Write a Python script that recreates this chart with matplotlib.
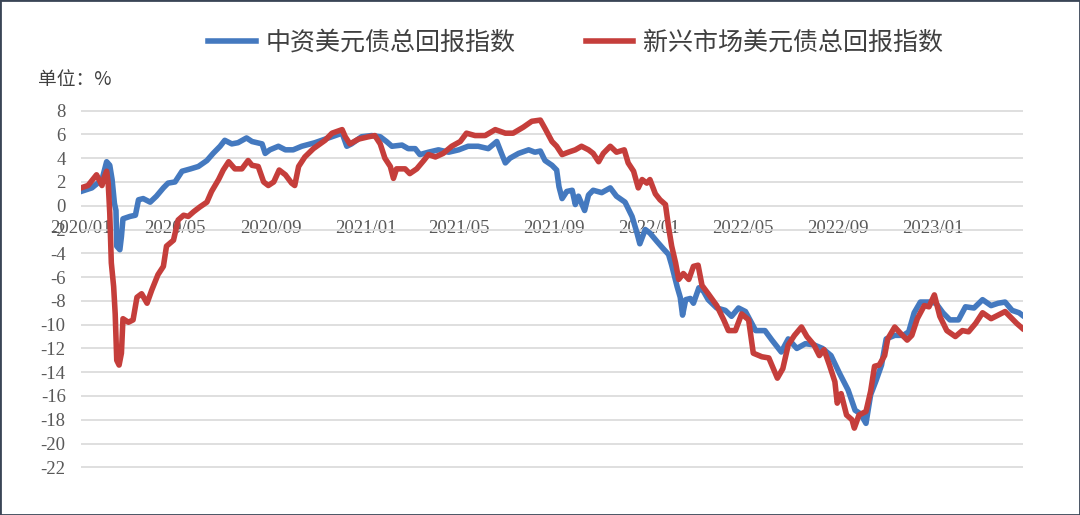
import matplotlib
matplotlib.use("Agg")
import matplotlib.pyplot as plt
from matplotlib.patches import Rectangle
import pandas as pd

START = pd.Timestamp("2020-01-01")

# day offsets from 2020-01-01 and values (%)
CN_DAYS = [0, 14, 27, 33, 37, 40, 43, 45, 46, 50, 52, 54, 63, 70, 74, 80, 89, 97, 106, 112,
           121, 130, 141, 151, 162, 170, 179, 185, 194, 202, 213, 220, 233, 237, 243, 254, 263, 273, 284, 301,
           314, 327, 336, 342, 348, 361, 374, 385, 393, 400, 413, 421, 430, 436, 447, 460, 473, 486, 498, 511,
           524, 535, 541, 546, 552, 563, 576, 584, 591, 597, 606, 612, 615, 619, 625, 632, 636, 640, 648, 653,
           659, 670, 681, 689, 700, 709, 715, 719, 726, 732, 741, 749, 756, 760, 767, 771, 774, 778, 784, 788,
           795, 801, 807, 818, 829, 837, 846, 855, 868, 880, 889, 901, 910, 921, 932, 943, 954, 965, 976, 987,
           996, 1003, 1010, 1016, 1023, 1030, 1036, 1047, 1058, 1065, 1072, 1080, 1092, 1100, 1109, 1118, 1129,
           1138, 1149, 1160, 1171, 1180, 1189, 1198, 1207, 1211]
CN_VALS = [1.2, 1.5, 2.2, 3.7, 3.4, 2.2, 0.2, -0.4, -3.4, -3.7, -2.6, -1.1, -0.9, -0.8, 0.5, 0.6, 0.3, 0.8, 1.5, 1.9,
           2.0, 2.9, 3.1, 3.3, 3.8, 4.4, 5.0, 5.5, 5.2, 5.3, 5.7, 5.4, 5.2, 4.4, 4.7, 5.0, 4.7, 4.7, 5.0, 5.3,
           5.6, 5.9, 6.1, 5.0, 5.2, 5.8, 5.9, 5.8, 5.4, 5.0, 5.1, 4.8, 4.8, 4.3, 4.5, 4.7, 4.5, 4.7, 5.0, 5.0,
           4.8, 5.4, 4.4, 3.6, 4.0, 4.4, 4.7, 4.5, 4.6, 3.8, 3.4, 3.0, 1.6, 0.6, 1.2, 1.3, 0.1, 0.8, -0.4, 0.9,
           1.3, 1.1, 1.5, 0.8, 0.3, -0.9, -2.2, -3.2, -2.0, -2.3, -3.0, -3.6, -4.1, -5.0, -6.8, -7.7, -9.2, -7.9, -7.8, -8.2,
           -6.9, -7.2, -7.9, -8.6, -8.8, -9.3, -8.6, -8.9, -10.5, -10.5, -11.3, -12.3, -11.2, -12.0, -11.6, -11.7, -12.0, -12.6, -14.1, -15.5,
           -17.2, -17.5, -18.3, -15.9, -14.7, -13.4, -11.2, -10.9, -10.9, -10.6, -9.0, -8.1, -8.1, -8.2, -9.0, -9.6, -9.6,
           -8.5, -8.6, -7.9, -8.4, -8.2, -8.1, -8.8, -9.0, -9.2]

EM_DAYS = [0, 9, 20, 27, 30, 33, 35, 37, 39, 42, 44, 46, 49, 52, 54, 61, 67, 72, 78, 85,
           91, 99, 106, 110, 119, 125, 132, 138, 145, 153, 162, 168, 177, 183, 190, 198, 207, 215, 220, 228,
           235, 241, 248, 255, 263, 271, 275, 280, 288, 299, 314, 323, 336, 340, 346, 357, 370, 378, 385, 391,
           398, 402, 406, 417, 423, 432, 441, 447, 456, 466, 477, 488, 496, 507, 520, 533, 546, 556, 569, 580,
           591, 597, 606, 612, 619, 627, 636, 644, 653, 659, 666, 672, 681, 689, 699, 704, 711, 717, 722, 728,
           732, 739, 745, 752, 756, 760, 765, 769, 775, 782, 788, 794, 799, 807, 818, 827, 833, 842, 850, 859,
           865, 876, 885, 896, 903, 910, 918, 927, 934, 943, 950, 956, 963, 970, 973, 978, 985, 992, 995, 1001,
           1010, 1016, 1021, 1027, 1034, 1038, 1047, 1054, 1063, 1069, 1076, 1085, 1091, 1098, 1105, 1114, 1125,
           1134, 1142, 1151, 1160, 1171, 1180, 1189, 1198, 1204, 1211]
EM_VALS = [1.5, 1.7, 2.6, 1.7, 2.4, 2.9, 1.9, -0.6, -4.8, -6.8, -9.1, -13.0, -13.4, -12.4, -9.5, -9.8, -9.6, -7.7, -7.4, -8.2,
           -7.1, -5.8, -5.1, -3.4, -2.9, -1.2, -0.8, -0.9, -0.5, -0.1, 0.3, 1.2, 2.2, 3.0, 3.7, 3.1, 3.1, 3.8, 3.4, 3.3,
           2.0, 1.7, 2.0, 3.0, 2.6, 1.9, 1.7, 3.3, 4.1, 4.8, 5.5, 6.1, 6.4, 5.8, 5.2, 5.6, 5.8, 5.9, 5.2, 4.0,
           3.3, 2.3, 3.1, 3.1, 2.7, 3.1, 3.8, 4.3, 4.1, 4.4, 5.0, 5.4, 6.1, 5.9, 5.9, 6.4, 6.1, 6.1, 6.6, 7.1,
           7.2, 6.5, 5.4, 5.0, 4.3, 4.5, 4.7, 5.0, 4.7, 4.4, 3.7, 4.4, 5.0, 4.5, 4.7, 3.6, 2.9, 1.5, 2.2, 1.9,
           2.2, 1.0, 0.5, 0.1, -1.8, -3.4, -4.8, -6.2, -5.7, -6.2, -5.1, -5.0, -6.7, -7.4, -8.4, -9.6, -10.5, -10.5, -9.1, -9.6,
           -12.4, -12.7, -12.8, -14.5, -13.7, -11.7, -10.9, -10.2, -11.0, -11.7, -12.6, -12.1, -13.4, -14.8, -16.6, -15.8, -17.6, -18.0, -18.7, -17.6,
           -17.3, -15.6, -13.5, -13.4, -12.6, -11.2, -10.2, -10.7, -11.3, -10.9, -9.5, -8.4, -8.5, -7.5, -9.3, -10.5, -11.0,
           -10.5, -10.6, -9.9, -9.0, -9.5, -9.2, -8.9, -9.5, -9.9, -10.3]

CN_LABEL = "中资美元债总回报指数"
EM_LABEL = "新兴市场美元债总回报指数"
X_TICKS = ["2020-01-01", "2020-05-01", "2020-09-01", "2021-01-01", "2021-05-01", "2021-09-01",
           "2022-01-01", "2022-05-01", "2022-09-01", "2023-01-01"]
Y_TICKS = list(range(-22, 9, 2))

BLUE = "#4479BF"
RED = "#C53E3B"


def to_dates(days):
    return START + pd.to_timedelta(days, unit="D")


def main() -> None:
    plt.rcParams["font.family"] = ["Liberation Serif", "Noto Sans CJK SC", "DejaVu Sans"]

    fig = plt.figure(figsize=(10.8, 5.15), dpi=100)
    ax = fig.add_axes([0.075, 0.0856, 0.8722, 0.7066])

    ax.plot(to_dates(CN_DAYS), CN_VALS, color=BLUE, linewidth=4.0, label=CN_LABEL, solid_joinstyle="round")
    ax.plot(to_dates(EM_DAYS), EM_VALS, color=RED, linewidth=4.0, label=EM_LABEL, solid_joinstyle="round")

    ax.set_xlim(START, START + pd.Timedelta(days=1212))
    ax.set_ylim(-22.3, 8.3)
    ax.set_yticks(Y_TICKS)
    ax.set_yticklabels([str(v) for v in Y_TICKS])
    xt = pd.to_datetime(X_TICKS)
    ax.set_xticks(xt)
    ax.set_xticklabels([d.strftime("%Y/%m") for d in xt])

    ax.grid(axis="y", color="#D9D9D9", linewidth=1.2)
    ax.set_axisbelow(True)
    for s in ["top", "right", "left"]:
        ax.spines[s].set_visible(False)
    ax.spines["bottom"].set_position(("data", 0))
    ax.spines["bottom"].set_visible(False)
    ax.tick_params(axis="both", length=0, labelsize=13.5, labelcolor="#595959")
    ax.tick_params(axis="y", pad=11)
    ax.tick_params(axis="x", pad=10)

    fig.text(0.035, 1 - 80 / 515, "单位：%", fontsize=13.5, color="#404040", va="center",
             family=["Noto Sans CJK SC", "DejaVu Sans"])

    fig.legend(loc="center", bbox_to_anchor=(0.533, 0.917), ncol=2, frameon=False,
               handlelength=1.9, handletextpad=0.4, columnspacing=2.8,
               prop={"family": ["Noto Sans CJK SC", "DejaVu Sans"], "size": 18})
    for t in fig.legends[0].get_texts():
        t.set_color("#404040")

    fig.patches.append(Rectangle((0, 0), 1, 1, transform=fig.transFigure, fill=False,
                                 edgecolor="#3A4556", linewidth=2.0))

    fig.savefig("out.png", dpi=100)
    plt.close(fig)


if __name__ == "__main__":
    main()
